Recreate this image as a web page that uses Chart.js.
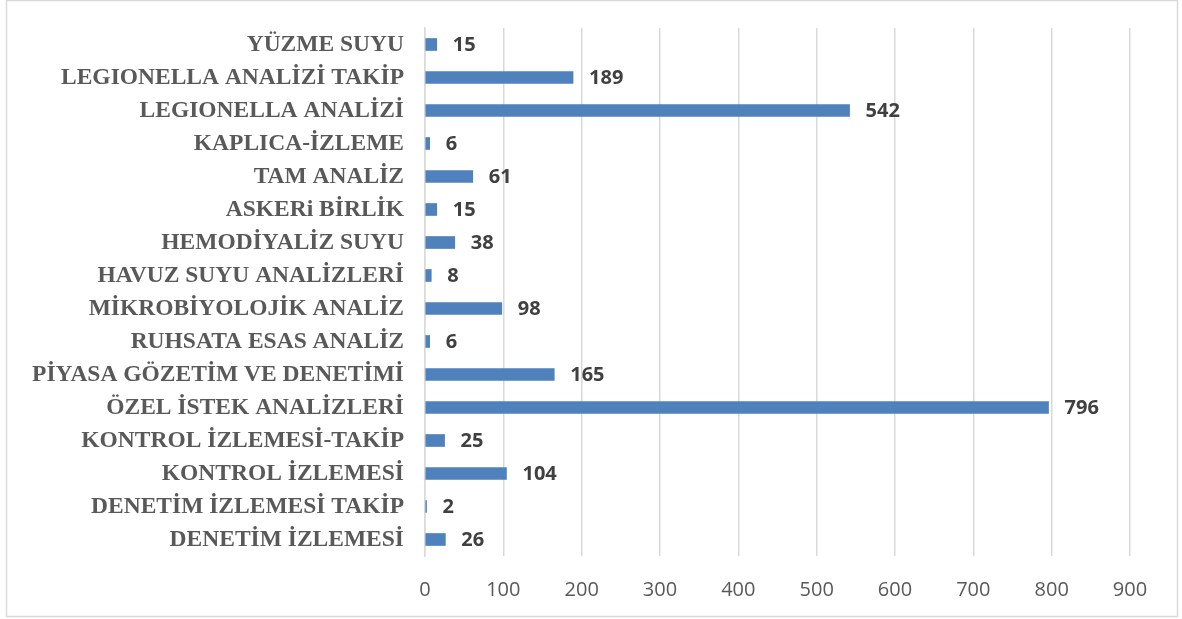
<!DOCTYPE html>
<html><head><meta charset="utf-8">
<script src="https://cdn.jsdelivr.net/npm/chart.js@4/dist/chart.umd.min.js"></script>
<style>html,body{margin:0;padding:0;background:#fff}#wrap{width:1182px;height:619px;position:relative}</style>
</head><body><div id="wrap"><canvas id="c" width="1182" height="619"></canvas></div>
<script>
const categories = ["YÜZME SUYU","LEGIONELLA ANALİZİ TAKİP","LEGIONELLA ANALİZİ","KAPLICA-İZLEME","TAM ANALİZ","ASKERi BİRLİK","HEMODİYALİZ SUYU","HAVUZ SUYU ANALİZLERİ","MİKROBİYOLOJİK ANALİZ","RUHSATA ESAS ANALİZ","PİYASA GÖZETİM VE DENETİMİ","ÖZEL İSTEK ANALİZLERİ","KONTROL İZLEMESİ-TAKİP","KONTROL İZLEMESİ","DENETİM İZLEMESİ TAKİP","DENETİM İZLEMESİ"];
const values = [15,189,542,6,61,15,38,8,98,6,165,796,25,104,2,26];
const xTicks = [0,100,200,300,400,500,600,700,800,900];

const frame = {
  id:'frame',
  beforeDraw(chart){
    const ctx = chart.ctx;
    ctx.save();
    ctx.fillStyle='#fff';ctx.fillRect(0,0,chart.width,chart.height);
    ctx.strokeStyle='#d9d9d9';ctx.lineWidth=1.5;
    ctx.strokeRect(6.5,0.5,1171,616);
    ctx.restore();
  }
};
const valueLabels = {
  id:'valueLabels',
  afterDatasetsDraw(chart){
    const ctx = chart.ctx;
    const meta = chart.getDatasetMeta(0);
    ctx.save();
    ctx.font='bold 20px "Open Sans"';
    ctx.fillStyle='#404040';
    ctx.textBaseline='middle';
    ctx.textAlign='left';
    meta.data.forEach((bar,i)=>{
      ctx.fillText(String(values[i]), bar.x+16, bar.y+1);
    });
    ctx.restore();
  }
};

const chart = new Chart(document.getElementById('c'),{
  type:'bar',
  data:{labels:categories,datasets:[{data:values,backgroundColor:'#4f81bd',barThickness:12}]},
  options:{
    indexAxis:'y',
    responsive:false,
    animation:false,
    layout:{padding:{top:28,right:52,left:0,bottom:0}},
    plugins:{legend:{display:false},tooltip:{enabled:false}},
    scales:{
      x:{
        min:0,max:900,
        afterBuildTicks(s){s.ticks=xTicks.map(v=>({value:v}));},
        afterFit(s){s.height=63;},
        grid:{color:'#d9d9d9',lineWidth:1.5,drawTicks:false},
        border:{display:false},
        ticks:{padding:22,color:'#595959',font:{family:'"Open Sans"',size:20}}
      },
      y:{
        afterFit(s){s.width=425; s.paddingTop=0; s.paddingBottom=0;},
        grid:{display:false,drawTicks:false},
        border:{display:true,color:'#d9d9d9',width:1.5},
        ticks:{padding:21,color:'#595959',font:{family:'"Liberation Serif"',size:23.5,weight:'bold'}}
      }
    }
  },
  plugins:[frame,valueLabels]
});
</script></body></html>
